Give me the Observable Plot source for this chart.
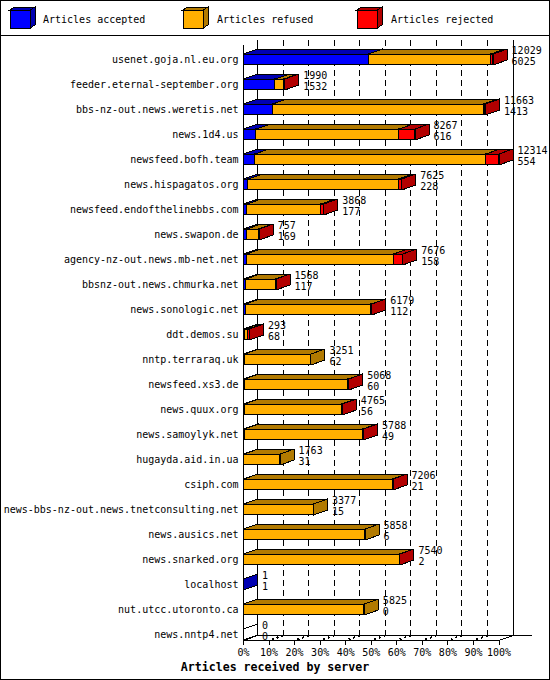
<!DOCTYPE html>
<html><head><meta charset="utf-8">
<script src="https://cdn.jsdelivr.net/npm/d3@7"></script>
<script src="https://cdn.jsdelivr.net/npm/@observablehq/plot@0.6"></script>
<style>
body{margin:0;background:#fff;}
#frame{position:relative;width:550px;height:680px;border:1px solid #000;box-sizing:border-box;font-family:"DejaVu Sans Mono",monospace;background:#fff;overflow:hidden;color:#000}
#legend{position:absolute;left:0;top:0;width:548px;height:34px;border-bottom:1px solid #000;}
#chart{position:absolute;left:0;top:35px;}
#caption{position:absolute;left:0;top:659px;width:548px;text-align:center;font-weight:bold;font-size:11.6px;line-height:14px;}
</style></head>
<body>
<div id="frame"><div id="legend"></div><div id="chart"></div><div id="caption"></div></div>
<script>
// ---- data ----
const hosts = [
  "usenet.goja.nl.eu.org","feeder.eternal-september.org","bbs-nz-out.news.weretis.net",
  "news.1d4.us","newsfeed.bofh.team","news.hispagatos.org","newsfeed.endofthelinebbs.com",
  "news.swapon.de","agency-nz-out.news.mb-net.net","bbsnz-out.news.chmurka.net",
  "news.sonologic.net","ddt.demos.su","nntp.terraraq.uk","newsfeed.xs3.de","news.quux.org",
  "news.samoylyk.net","hugayda.aid.in.ua","csiph.com","news-bbs-nz-out.news.tnetconsulting.net",
  "news.ausics.net","news.snarked.org","localhost","nut.utcc.utoronto.ca","news.nntp4.net"
];
const offered  = [12029,1990,11663,8267,12314,7625,3868,757,7676,1568,6179,293,3251,5068,4765,5788,1763,7206,3377,5858,7540,1,5825,0];
const accepted = [6025,1532,1413,616,554,228,177,169,158,117,112,68,62,60,56,49,31,21,15,6,2,1,0,0];
const refused  = [5904,418,10160,6881,11130,7257,3561,568,7083,1441,6052,150,3189,4998,4679,5709,1732,7175,3362,5852,7528,0,5825,0];
const rejected = [100,40,90,770,630,140,130,20,435,10,15,75,0,10,30,30,0,10,0,0,10,0,0,0];
const seriesNames = ["Articles accepted","Articles refused","Articles rejected"];
const frontColors = ["#0000ff","#ffaf00","#ff0000"];
const shadeColors = ["#0000b2","#b27a00","#b20000"];
const tickPercents = [0,10,20,30,40,50,60,70,80,90,100];
const axisLabel = "Articles received by server";

// ---- layout ----
const W = 548, H = 623;
const ML = 242, MR = 50.5, MT = 9, MB = 19;
const plotW = W - ML - MR;
const ROW = 25;
const MAXV = d3.max(offered);
const DX = MAXV * 14 / plotW;      // 3D depth in x (data units)
const DY = -5 / ROW;               // 3D depth in y (row units)
const HALF = 5.5 / ROW;            // half bar height
const Y0 = -14 / ROW;
const Y1 = Y0 + (H - MT - MB) / ROW;
const tickValues = tickPercents.map(p => p / 100 * MAXV);

// ---- legend ----
(function(){
  const ns = "http://www.w3.org/2000/svg";
  const svg = d3.select("#legend").append("svg").attr("width",548).attr("height",34)
    .style("shape-rendering","crispEdges");
  const sx = [9,182,356], tx = [42,216,390];
  seriesNames.forEach((name,s)=>{
    const g = svg.append("g").attr("transform",`translate(${sx[s]},9)`);
    g.append("polygon").attr("points","0,0 5,-3 25,-3 20,0").attr("fill",shadeColors[s]).attr("stroke","#000");
    g.append("polygon").attr("points","20,0 25,-3 25,15 20,18").attr("fill",shadeColors[s]).attr("stroke","#000");
    g.append("rect").attr("x",0).attr("y",0).attr("width",20).attr("height",18).attr("fill",frontColors[s]).attr("stroke","#000");
    svg.append("text").attr("x",tx[s]).attr("y",19).attr("dominant-baseline","middle")
      .attr("font-family","DejaVu Sans Mono").attr("font-size",10).text(name);
  });
})();
document.getElementById("caption").textContent = axisLabel;

// ---- bar geometry ----
const values = [accepted, refused, rejected];
const fronts = [[],[],[]], tops = [[],[],[]], sides = [[],[],[]];
const empties = [];
hosts.forEach((h,i)=>{
  let x0 = 0;
  const yt = i - HALF, yb = i + HALF;
  values.forEach((arr,s)=>{
    const v = arr[i];
    if (!(v > 0)) return;
    const x1 = x0 + v;
    fronts[s].push({x0, x1, i});
    [[x0,yt],[x1,yt],[x1+DX,yt+DY],[x0+DX,yt+DY],[x0,yt]].forEach(([x,y])=>tops[s].push({x,y,id:i}));
    [[x1,yt],[x1+DX,yt+DY],[x1+DX,yb+DY],[x1,yb],[x1,yt]].forEach(([x,y])=>sides[s].push({x,y,id:i}));
    x0 = x1;
  });
  if (offered[i] === 0) {
    [[0,yt],[DX,yt+DY],[DX,yb+DY],[0,yb],[0,yt]].forEach(([x,y])=>empties.push({x,y,id:i}));
  }
});
const rows = hosts.map((h,i)=>({i, total: offered[i], acc: accepted[i]}));

const barMarks = [];
[0,1,2].forEach(s=>{
  barMarks.push(Plot.rect(fronts[s], {x1:"x0", x2:"x1", y1:d=>d.i-HALF, y2:d=>d.i+HALF, fill:frontColors[s], stroke:"#000", strokeWidth:1}));
  barMarks.push(Plot.line(tops[s], {x:"x", y:"y", z:"id", fill:shadeColors[s], stroke:"#000", strokeWidth:1}));
  barMarks.push(Plot.line(sides[s], {x:"x", y:"y", z:"id", fill:shadeColors[s], stroke:"#000", strokeWidth:1}));
});

const chart = Plot.plot({
  width: W, height: H,
  marginLeft: ML, marginRight: MR, marginTop: MT, marginBottom: MB,
  style: {fontFamily: "DejaVu Sans Mono", fontSize: "10px", background: "transparent", color: "#000", shapeRendering: "crispEdges"},
  x: {domain: [0, MAXV], ticks: tickValues, tickFormat: v => Math.round(v / MAXV * 100) + "%", tickSize: 5, tickPadding: 3, label: null},
  y: {domain: [Y0, Y1], reverse: true, ticks: d3.range(hosts.length), tickFormat: i => hosts[i], tickSize: 0, tickPadding: 5, label: null},
  marks: [
    Plot.ruleX(tickValues.slice(1,-1).map(v=>v+DX), {y1: Y0+DY, y2: Y1+DY, stroke:"#000", strokeDasharray:"6,4"}),
    Plot.ruleX([DX, MAXV+DX], {y1: Y0+DY, y2: Y1+DY, stroke:"#000"}),
    Plot.ruleY([Y1+DY], {x1: DX, x2: MAXV + DX + MAXV*19/plotW, stroke:"#000"}),
    Plot.ruleY([Y1], {x1: 0, x2: MAXV, stroke:"#000"}),
    Plot.link([0, MAXV], {x1: d=>d, y1: Y1, x2: d=>d+DX, y2: Y1+DY, stroke:"#000"}),
    Plot.link(tickValues.slice(1,-1), {x1: d=>d, y1: Y1, x2: d=>d+DX, y2: Y1+DY, stroke:"#000", strokeWidth:2, strokeDasharray:"2,3", strokeDashoffset:-3}),
    Plot.ruleX([0], {y1: Y0, y2: Y1, stroke:"#000"}),
    Plot.line(empties, {x:"x", y:"y", z:"id", fill:"#fff", stroke:"#000", strokeWidth:1}),
    ...barMarks,
    Plot.text(rows, {x:"total", y:"i", text:d=>String(d.total), dx:18.5, dy:-9, textAnchor:"start", fill:"#000"}),
    Plot.text(rows, {x:"total", y:"i", text:d=>String(d.acc), dx:18.5, dy:2, textAnchor:"start", fill:"#000"})
  ]
});
document.getElementById("chart").appendChild(chart);
</script>
</body></html>
